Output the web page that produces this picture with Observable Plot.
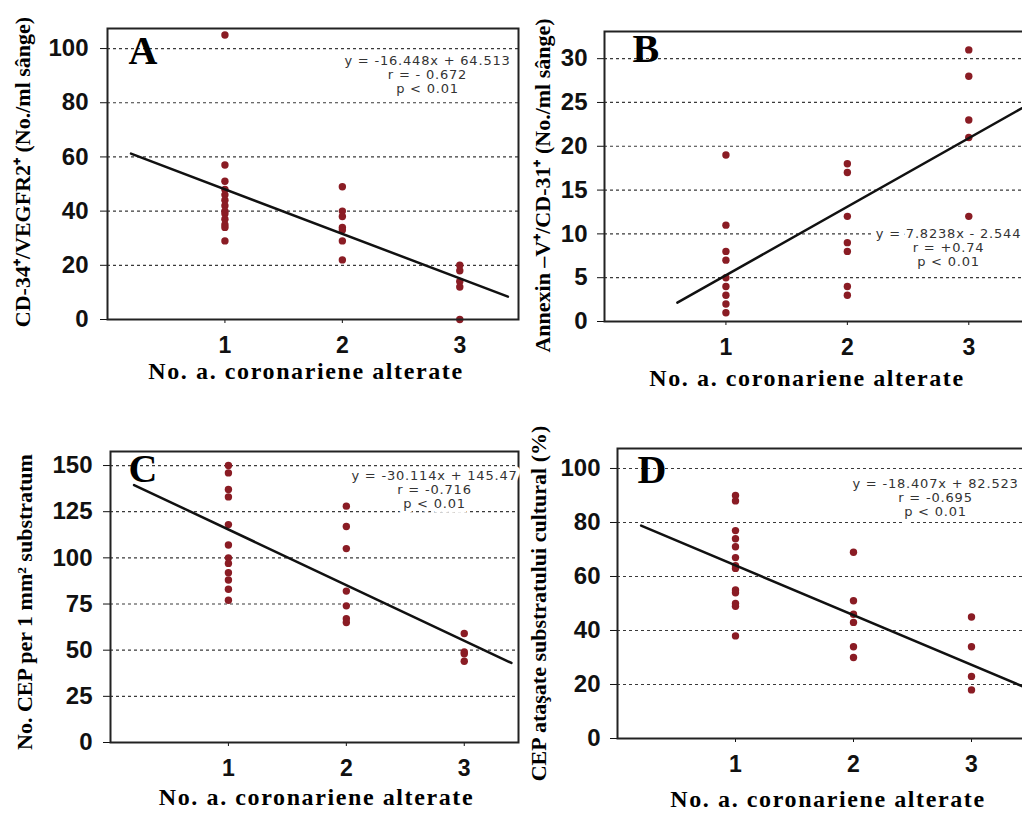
<!DOCTYPE html>
<html><head><meta charset="utf-8">
<script src="https://cdn.jsdelivr.net/npm/d3@7"></script>
<script src="https://cdn.jsdelivr.net/npm/@observablehq/plot@0.6"></script>
<style>
html,body{margin:0;padding:0;background:#fff;overflow:hidden;}
#wrap{position:relative;width:1022px;height:813px;overflow:hidden;background:#fff;}
.panel{position:absolute;}
</style></head><body><div id="wrap"></div>
<script>
// ---- data ----
const xCategories = [1, 2, 3];
const xTickLabels = ["1", "2", "3"];
const xLabel = "No. a. coronariene alterate";

// Panel A
const aAt1 = [105, 57, 51, 48, 46, 44, 42, 40, 39, 37, 35, 34, 29];
const aAt2 = [49, 40, 38, 34, 33, 29, 22];
const aAt3 = [20, 18, 14, 12, 0];
const aTicks = [0, 20, 40, 60, 80, 100];
const aFit = {slope: -16.448, intercept: 64.513, from: 0.2, to: 3.41};
const aEquation = ["y = -16.448x + 64.513", "r = - 0.672", "p < 0.01"];
const aYLabel = "CD-34⁺/VEGFR2⁺ (No./ml sânge)";

// Panel B
const bAt1 = [19, 11, 8, 7, 5, 4, 3, 2, 1];
const bAt2 = [18, 17, 12, 9, 8, 4, 3];
const bAt3 = [31, 28, 23, 21, 12];
const bTicks = [0, 5, 10, 15, 20, 25, 30];
const bFit = {slope: 7.8238, intercept: -2.544, from: 0.6, to: 3.5};
const bEquation = ["y = 7.8238x - 2.544", "r = +0.74", "p < 0.01"];
const bYLabel = "Annexin –V⁺/CD-31⁺ (No./ml sânge)";

// Panel C
const cAt1 = [150, 146, 137, 133, 118, 107, 100, 97, 92, 88, 83, 77];
const cAt2 = [128, 117, 105, 82, 74, 67, 65];
const cAt3 = [59, 49, 48, 44];
const cTicks = [0, 25, 50, 75, 100, 125, 150];
const cFit = {slope: -30.114, intercept: 145.47, from: 0.2, to: 3.4};
const cEquation = ["y = -30.114x + 145.47", "r = -0.716", "p < 0.01"];
const cYLabel = "No. CEP per 1 mm² substratum";

// Panel D
const dAt1 = [90, 88, 77, 74, 71, 67, 64, 63, 55, 54, 50, 49, 38];
const dAt2 = [69, 51, 46, 43, 34, 30];
const dAt3 = [45, 34, 23, 18];
const dTicks = [0, 20, 40, 60, 80, 100];
const dFit = {slope: -18.407, intercept: 82.523, from: 0.2, to: 3.5};
const dEquation = ["y = -18.407x + 82.523", "r = -0.695", "p < 0.01"];
const dYLabel = "CEP ataşate substratului cultural (%)";

// ---- layout ----
const panels = [
  {letter: "A", groups: [aAt1, aAt2, aAt3], ticks: aTicks, fit: aFit, eq: aEquation, yLabel: aYLabel,
   left: 0, top: 0, width: 520, height: 400, mL: 107, mT: 28, mR: 2, mB: 81, xMax: 3.5, yMax: 107.4,
   tickPad: 12, letterDx: 21, letterDy: 7, eqDx: -91, eqDy: 26, ylDx: -85, ylDy: -2, xlDx: -7, xlDy: 52},
  {letter: "B", groups: [bAt1, bAt2, bAt3], ticks: bTicks, fit: bFit, eq: bEquation, yLabel: bYLabel,
   left: 500, top: 0, width: 532, height: 400, mL: 104, mT: 31, mR: 3, mB: 79, xMax: 3.5, yMax: 33.1,
   tickPad: 10, letterDx: 28, letterDy: 2, eqDx: -81, eqDy: 196, ylDx: -62, ylDy: 9, xlDx: -10, xlDy: 57},
  {letter: "C", groups: [cAt1, cAt2, cAt3], ticks: cTicks, fit: cFit, eq: cEquation, yLabel: cYLabel,
   left: 0, top: 420, width: 520, height: 393, mL: 110, mT: 31, mR: 2, mB: 71, xMax: 3.46, yMax: 157.6,
   tickPad: 11, letterDx: 18, letterDy: 2, eqDx: -84, eqDy: 18, ylDx: -86, ylDy: 5, xlDx: 2, xlDy: 55},
  {letter: "D", groups: [dAt1, dAt2, dAt3], ticks: dTicks, fit: dFit, eq: dEquation, yLabel: dYLabel,
   left: 500, top: 420, width: 533, height: 393, mL: 117, mT: 28, mR: 3, mB: 75, xMax: 3.5, yMax: 107.4,
   tickPad: 10, letterDx: 20, letterDy: 6, eqDx: -95, eqDy: 29, ylDx: -79, ylDy: 10, xlDx: 4, xlDy: 61}
];

const serif = "'Liberation Serif', 'Times New Roman', serif";
const sans = "'Liberation Sans', Arial, sans-serif";

const wrap = document.getElementById("wrap");
for (const p of panels) {
  const points = p.groups.flatMap((vals, i) => vals.map(v => ({x: xCategories[i], y: v})));
  const fitLine = [p.fit.from, p.fit.to].map(x => ({x, y: p.fit.slope * x + p.fit.intercept}));
  const grid = p.ticks.filter(t => t !== 0);
  const chart = Plot.plot({
    width: p.width, height: p.height,
    marginLeft: p.mL, marginTop: p.mT, marginRight: p.mR, marginBottom: p.mB,
    style: {background: "transparent", overflow: "visible"},
    x: {domain: [0, p.xMax]},
    y: {domain: [0, p.yMax]},
    marks: [
      Plot.ruleY(grid, {stroke: "#3a3a3a", strokeDasharray: "3,3", strokeWidth: 1.2, x1: 0, x2: p.xMax}),
      Plot.axisY({ticks: p.ticks, tickSize: 7, tickPadding: p.tickPad, label: null,
        fontSize: 24, fontWeight: "bold", fontFamily: sans, fill: "#111", stroke: "#111"}),
      Plot.axisX({ticks: xCategories, tickFormat: (d, i) => xTickLabels[i], tickSize: 4, tickPadding: 13, label: null,
        fontSize: 23, fontWeight: "bold", fontFamily: sans, fill: "#111", stroke: "#111"}),
      Plot.dot(points, {x: "x", y: "y", r: 3.7, fill: "#8a1c24", stroke: "none"}),
      Plot.line(fitLine, {x: "x", y: "y", stroke: "#111", strokeWidth: 2.5}),
      Plot.frame({stroke: "#222", strokeWidth: 2}),
      Plot.text([p.letter], {frameAnchor: "top-left", text: d => d, textAnchor: "start", lineAnchor: "top",
        dx: p.letterDx, dy: p.letterDy, fontSize: 40, fontWeight: "bold", fontFamily: serif, fill: "#000"}),
      Plot.text([p.eq.join("\n")], {frameAnchor: "top-right", text: d => d, textAnchor: "middle", lineAnchor: "top",
        dx: p.eqDx, dy: p.eqDy, fontSize: 13, lineHeight: 1.1, fontFamily: "'DejaVu Sans', Verdana, sans-serif",
        fill: "#333", stroke: "white", strokeWidth: 9, paintOrder: "stroke"}),
      Plot.text([p.yLabel], {frameAnchor: "left", text: d => d, rotate: -90, textAnchor: "middle", lineAnchor: "middle",
        dx: p.ylDx, dy: p.ylDy, fontSize: 22, fontWeight: "bold", fontFamily: serif, fill: "#000"}),
      Plot.text([xLabel], {frameAnchor: "bottom", text: d => d, textAnchor: "middle", lineAnchor: "middle",
        dx: p.xlDx, dy: p.xlDy, fontSize: 24, fontWeight: "bold", fontFamily: serif, fill: "#000"})
    ]
  });
  chart.classList.add("panel");
  chart.style.left = p.left + "px";
  chart.style.top = p.top + "px";
  chart.querySelectorAll("text").forEach(t => {
    if (/^(y =|r =|p <)/.test(t.textContent)) t.style.letterSpacing = "0.8px";
    if (t.textContent === xLabel) t.style.letterSpacing = "1.6px";
  });
  wrap.appendChild(chart);
}
</script></body></html>
